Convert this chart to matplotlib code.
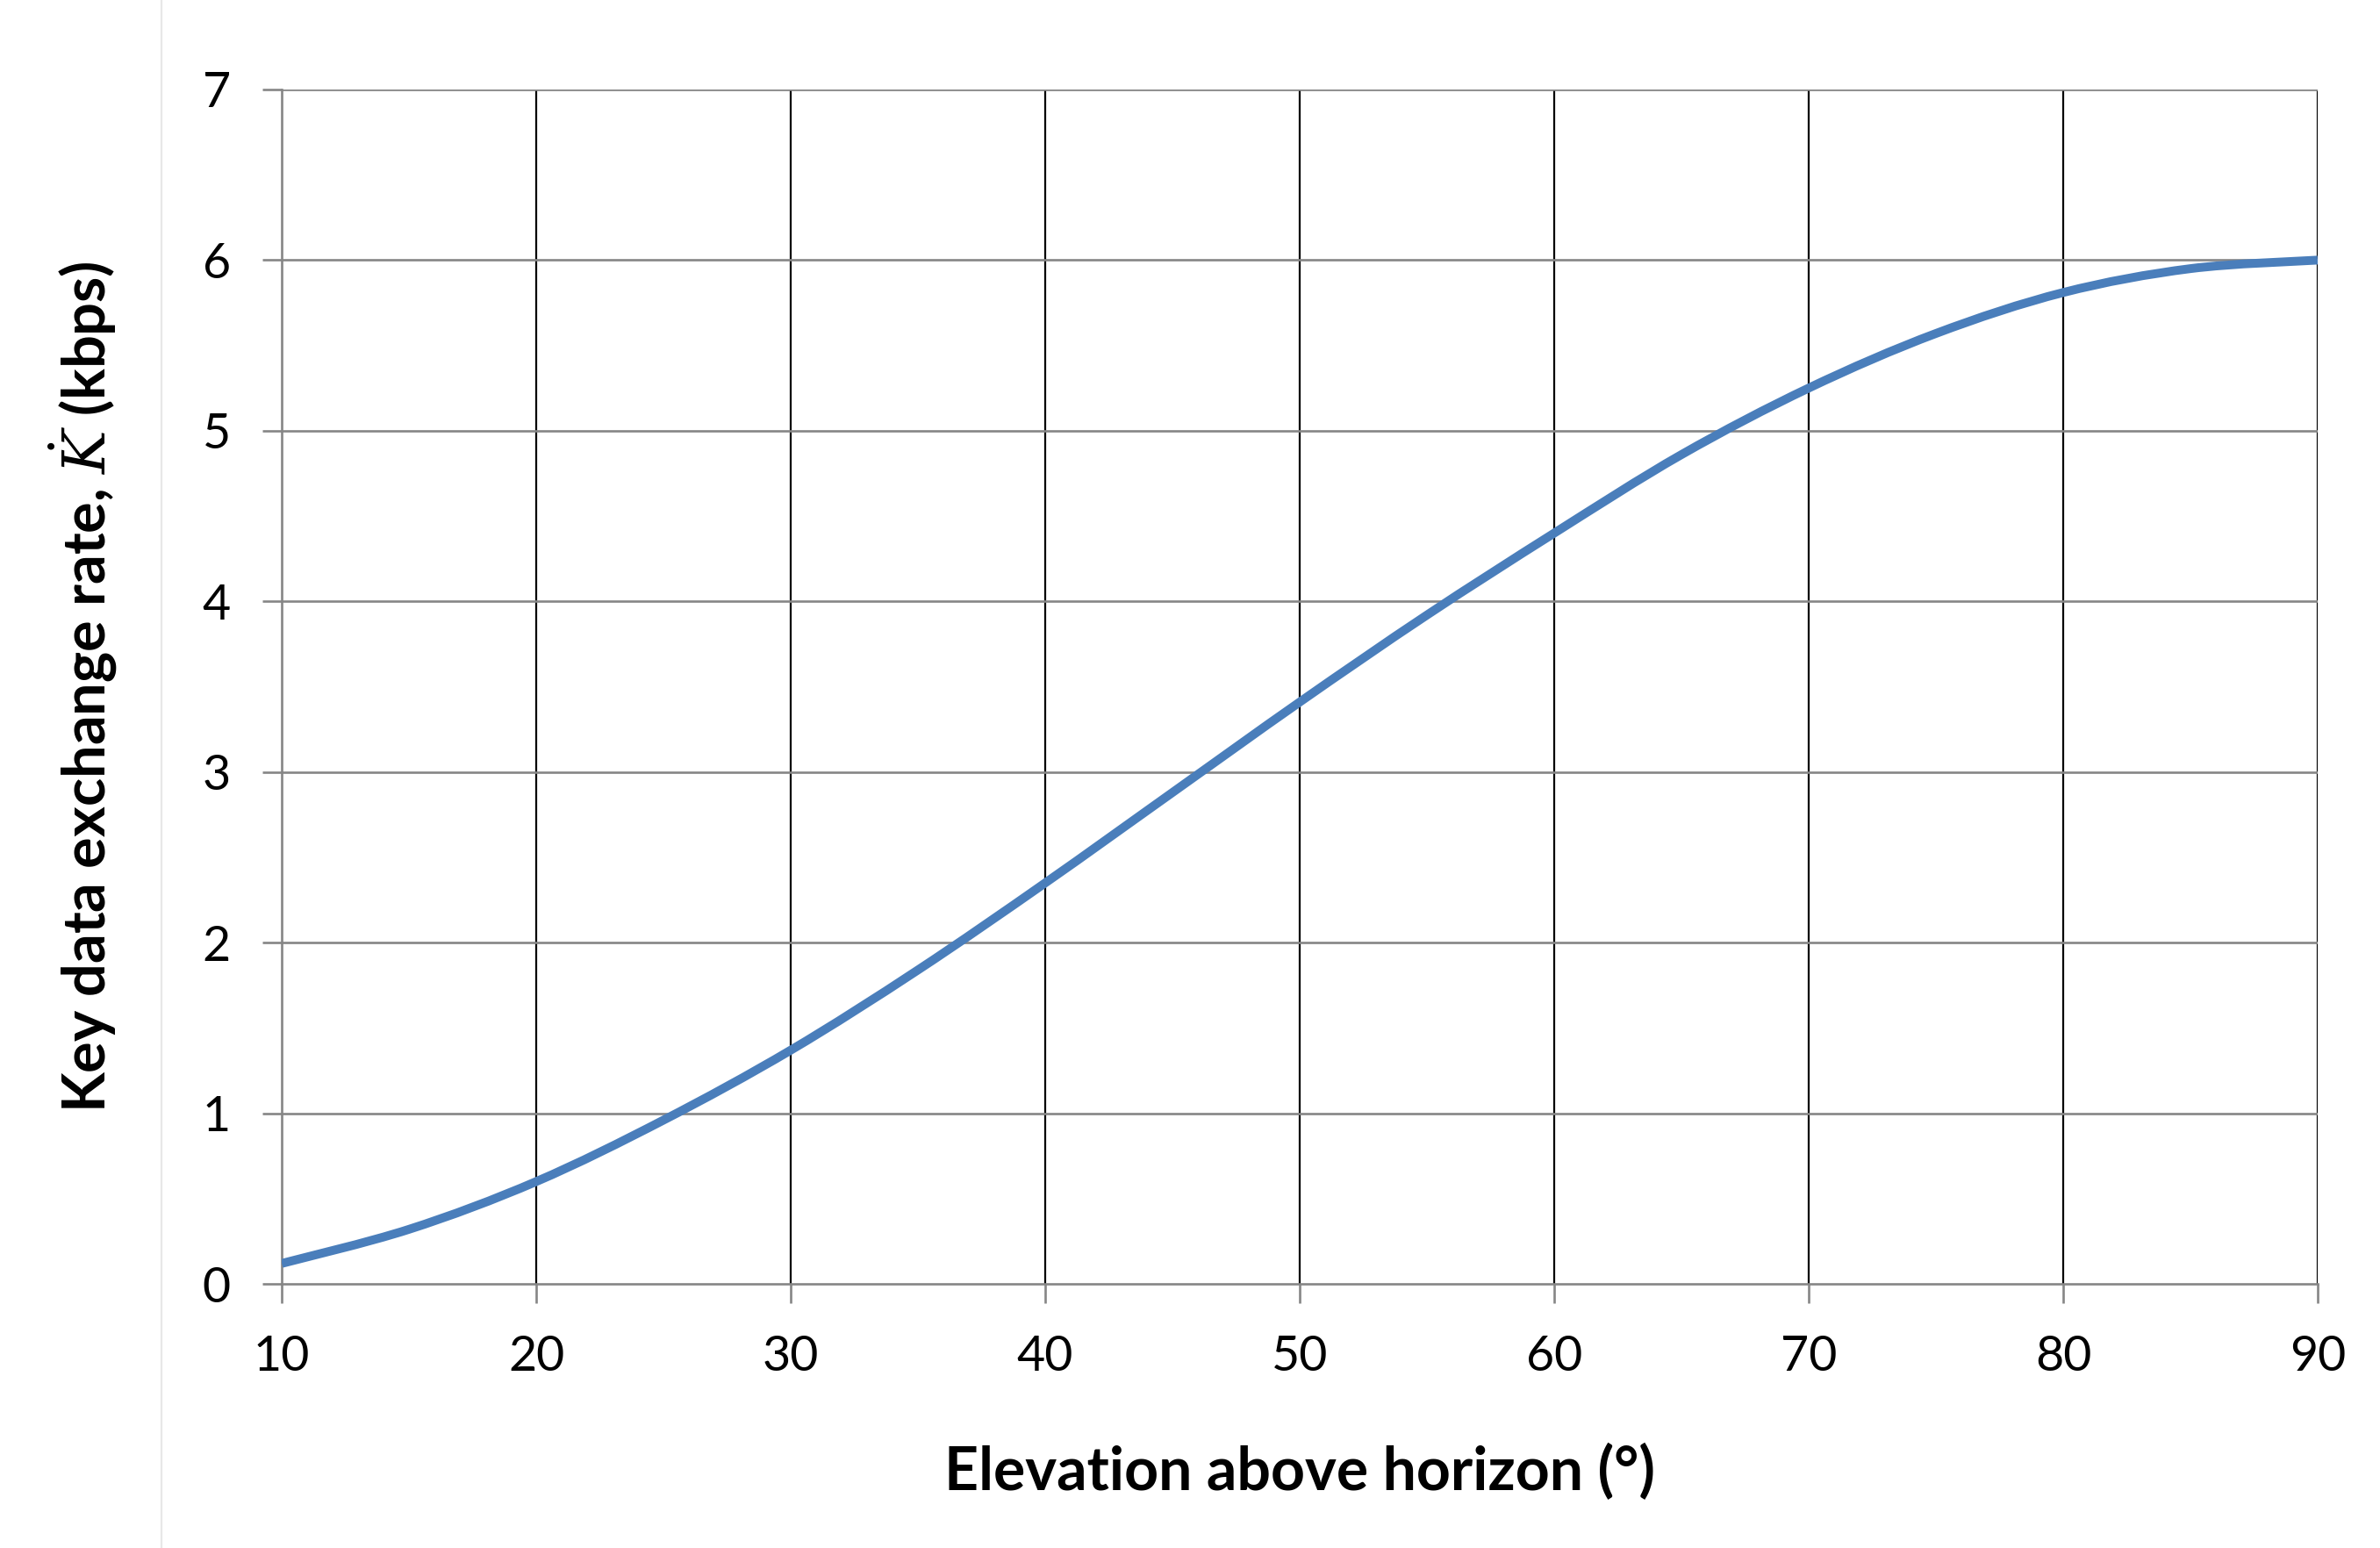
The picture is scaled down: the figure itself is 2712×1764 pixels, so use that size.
import matplotlib
matplotlib.use("Agg")
import matplotlib.pyplot as plt
import numpy as np
from matplotlib.lines import Line2D
from matplotlib.path import Path
from matplotlib.patches import PathPatch

# elevation (deg) and key rate (kbps)
elevation = [10, 15, 20, 25, 30, 35, 40, 45, 50, 55, 60, 65, 70, 75, 80, 85, 90]
key_rate = [0.12, 0.32, 0.60, 0.96, 1.37, 1.84, 2.35, 2.88, 3.41, 3.92, 4.40,
            4.86, 5.25, 5.57, 5.81, 5.95, 6.00]

x_ticks = [10, 20, 30, 40, 50, 60, 70, 80, 90]
y_ticks = [0, 1, 2, 3, 4, 5, 6, 7]


def smooth_path(xs, ys):
    """Excel style smoothed line: cubic bezier through every point."""
    pts = np.column_stack([xs, ys]).astype(float)
    verts = [pts[0]]
    codes = [Path.MOVETO]
    n = len(pts)
    for i in range(n - 1):
        p0 = pts[max(i - 1, 0)]
        p1 = pts[i]
        p2 = pts[i + 1]
        p3 = pts[min(i + 2, n - 1)]
        verts += [p1 + (p2 - p0) / 6, p2 - (p3 - p1) / 6, p2]
        codes += [Path.CURVE4] * 3
    return Path(verts, codes)


plt.rcParams['font.family'] = ['Lato', 'DejaVu Sans']
plt.rcParams['mathtext.fontset'] = 'dejavuserif'

fig = plt.figure(figsize=(13.56, 8.82), dpi=200)
ax = fig.add_axes([0.1184, 0.1706, 0.8554, 0.7716])

curve = PathPatch(smooth_path(elevation, key_rate), facecolor="none",
                  edgecolor="#4a7ebb", lw=3.6, capstyle="butt", zorder=3)
ax.add_patch(curve)

ax.set_xlim(10, 90)
ax.set_ylim(0, 7)
ax.set_xticks(x_ticks)
ax.set_yticks(y_ticks)

# vertical grid black, horizontal grid gray
for x in x_ticks[1:]:
    ax.axvline(x, color="black", lw=0.8, zorder=1)
for y in y_ticks[1:]:
    ax.axhline(y, color="#868686", lw=0.95, zorder=1)

for side in ["top", "right"]:
    ax.spines[side].set_visible(False)
for side in ["left", "bottom"]:
    ax.spines[side].set_color("#868686")
    ax.spines[side].set_linewidth(0.95)

ax.tick_params(axis="both", direction="out", length=8, width=0.95,
               color="#868686", labelsize=20, labelcolor="black")
ax.tick_params(axis="x", pad=13)
ax.tick_params(axis="y", pad=13)

ax.set_xlabel("Elevation above horizon (°)", fontsize=24.5, fontweight="bold", labelpad=26)
ax.set_ylabel(r"Key data exchange rate, $\dot{K}$ (kbps)", fontsize=24,
              fontweight="bold", labelpad=34)

# faint border line seen at the left of the original image
fig.add_artist(Line2D([0.068, 0.068], [0, 1], transform=fig.transFigure,
                      color="#e8e8e8", lw=0.8))

fig.savefig("out.png", dpi=200)
